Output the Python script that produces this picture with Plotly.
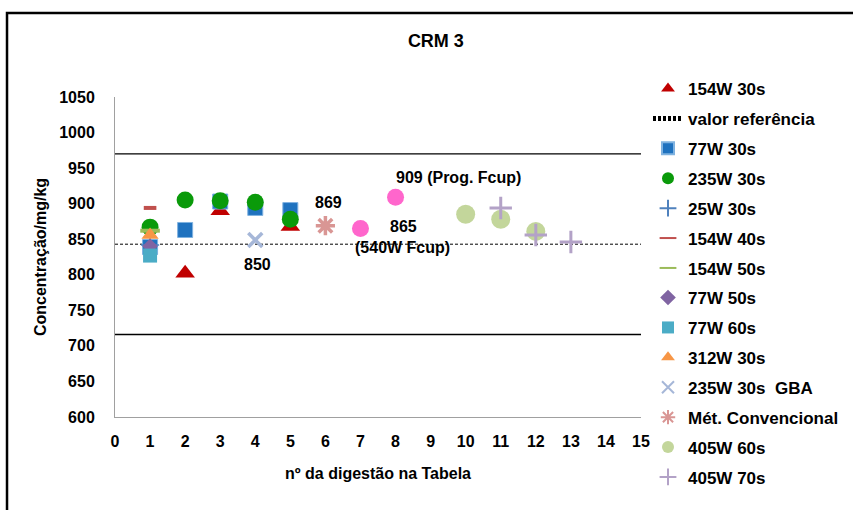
import plotly.graph_objects as go

FONT = "Liberation Sans, Arial, sans-serif"

REF_VALUE = 843
UPPER_LIMIT = 970
LOWER_LIMIT = 716
X_SPAN = [0, 15]

# series values
s154_30_x = [2, 3, 5]
s154_30_y = [802, 890, 868]
s77_30_x = [1, 2, 3, 4, 5]
s77_30_y = [839, 863, 903, 894, 891]
s235_30_x = [1, 2, 3, 4, 5]
s235_30_y = [867, 905, 904, 902, 878]
s25_30_x = [1]
s25_30_y = [842]
s154_40_x = [1]
s154_40_y = [894]
s154_50_x = [1]
s154_50_y = [862]
s77_50_x = [1]
s77_50_y = [840]
s77_60_x = [1]
s77_60_y = [827]
s312_30_x = [1]
s312_30_y = [856]
gba_x = [4]
gba_y = [849]
conv_x = [6]
conv_y = [869]
s405_60_x = [10, 11, 12]
s405_60_y = [885, 878, 861]
s405_70_x = [11, 12, 13]
s405_70_y = [894, 856, 846]
fcup_x = [7, 8]
fcup_y = [865, 909]

fig = go.Figure()

def pts(name, x, y, symbol, color, size, line_color=None, line_w=0,
        legend=True, leg="legend"):
    fig.add_trace(go.Scatter(
        x=x, y=y, mode="markers", name=name, showlegend=legend,
        legendgroup=name, legend=leg,
        marker=dict(symbol=symbol, color=color, size=size,
                    line=dict(color=line_color or color, width=line_w)),
    ))

# limit lines (no legend)
for lim in (UPPER_LIMIT, LOWER_LIMIT):
    fig.add_trace(go.Scatter(x=X_SPAN, y=[lim, lim], mode="lines", showlegend=False,
                             line=dict(color="black", width=1.3), hoverinfo="skip"))

pts("154W 30s", s154_30_x, s154_30_y, "triangle-up", "#C00000", 17)
fig.add_trace(go.Scatter(x=X_SPAN, y=[REF_VALUE, REF_VALUE], mode="lines",
                         name="valor referência", legendgroup="ref",
                         line=dict(color="black", width=1, dash="3px,2px")))
pts("77W 30s", s77_30_x, s77_30_y, "square", "#1F72BF", 15, "#7FB2E0", 1)
pts("235W 30s", s235_30_x, s235_30_y, "circle", "#0A9A0A", 17)
pts("25W 30s", s25_30_x, s25_30_y, "cross-thin-open", "#4F81BD", 13, line_w=1.5)
pts("154W 40s", s154_40_x, s154_40_y, "line-ew-open", "#C0504D", 9, line_w=4)
pts("154W 50s", s154_50_x, s154_50_y, "line-ew-open", "#9BBB59", 14, line_w=4)
pts("77W 50s", s77_50_x, s77_50_y, "diamond", "#8064A2", 12, leg="legend2")
pts("77W 60s", s77_60_x, s77_60_y, "square", "#4BACC6", 14, leg="legend2")
pts("312W 30s", s312_30_x, s312_30_y, "triangle-up", "#F79646", 15, leg="legend2")
pts("235W 30s  GBA", gba_x, gba_y, "x-thin-open", "#A6B7D8", 14, line_w=3.5,
    leg="legend2")
pts("Mét. Convencional", conv_x, conv_y, "asterisk-open", "#D99694", 16,
    line_w=3.5, leg="legend2")
pts("405W 60s", s405_60_x, s405_60_y, "circle", "#C3D69B", 19, leg="legend2")
pts("405W 70s", s405_70_x, s405_70_y, "cross-thin-open", "#B3A2C7", 16,
    line_w=3, leg="legend2")
pts("Fcup", fcup_x, fcup_y, "circle", "#FF66CC", 17, legend=False)

lab = dict(family=FONT, size=16, color="black")
notes = [
    (4.06, 814, "<b>850</b>"),
    (6.1, 902, "<b>869</b>"),
    (9.8, 937, "<b>909 (Prog. Fcup)</b>"),
    (8.23, 868, "<b>865</b>"),
    (8.2, 838, "<b>(540W Fcup)</b>"),
]
for x, y, t in notes:
    fig.add_annotation(x=x, y=y, text=t, showarrow=False, font=lab)

fig.add_shape(type="rect", xref="paper", yref="paper",
              x0=-0.2053, x1=1.45, y0=-0.35, y1=1.2625,
              line=dict(color="black", width=2.5), layer="below")

leg_style = dict(xanchor="left", yanchor="top", tracegroupgap=4.8,
                 font=dict(size=17, family=FONT), itemwidth=30,
                 itemsizing="constant", bgcolor="rgba(0,0,0,0)")

fig.update_layout(
    width=853, height=510,
    paper_bgcolor="white", plot_bgcolor="white",
    margin=dict(l=115, r=212, t=97, b=93, autoexpand=False),
    font=dict(family=FONT, size=16, color="black"),
    title=dict(text="<b>CRM 3</b>", x=0.511, xref="container", y=1 - 41 / 510,
               yref="container", xanchor="center", yanchor="middle",
               font=dict(size=18)),
    xaxis=dict(range=[0, 15], dtick=1, showgrid=False, zeroline=False,
               showline=True, linecolor="#A0A0A0", linewidth=1, ticks="",
               automargin=False, ticklabelstandoff=10,
               tickfont=dict(size=16), tickprefix="<b>", ticksuffix="</b>",
               title=dict(text="<b>nº da digestão na Tabela</b>",
                          font=dict(size=16), standoff=18)),
    yaxis=dict(range=[600, 1050], dtick=50, showgrid=False, zeroline=False,
               showline=True, linecolor="#A0A0A0", linewidth=1, ticks="",
               automargin=False, ticklabelstandoff=16,
               tickfont=dict(size=16), tickprefix="<b>", ticksuffix="</b>",
               title=dict(text="<b>Concentração/mg/kg</b>",
                          font=dict(size=16), standoff=8)),
    legend=dict(x=(648 - 115) / 526, y=(417 - 71) / 320, **leg_style),
    legend2=dict(x=(648 - 115) / 526, y=(417 - 280) / 320, **leg_style),
    showlegend=True,
)

# bold legend labels
for tr in fig.data:
    if tr.showlegend is not False and tr.name:
        tr.name = "<b>" + tr.name + "</b>"

fig.write_html("out.html", config={"displayModeBar": False},
               post_script="document.body.style.margin='0';")
